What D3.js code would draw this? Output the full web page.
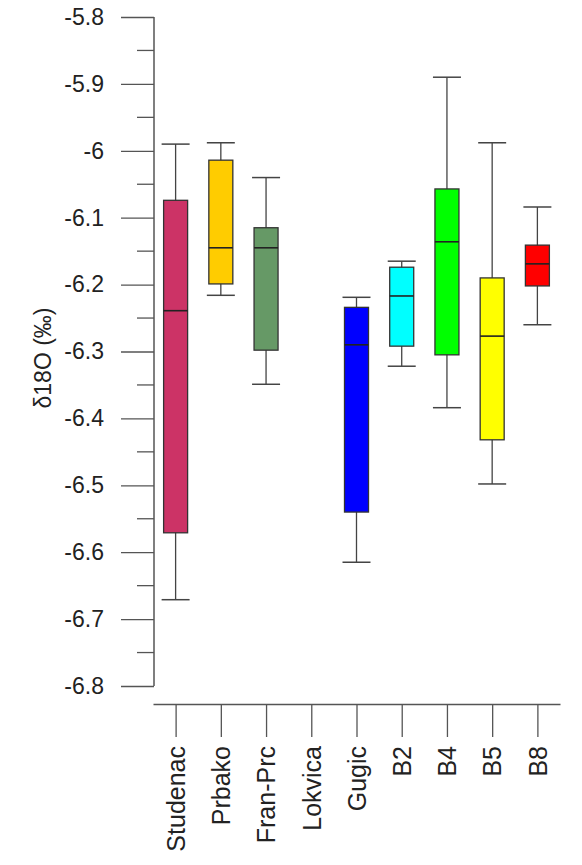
<!DOCTYPE html>
<html>
<head>
<meta charset="utf-8">
<script src="https://cdn.jsdelivr.net/npm/d3@7"></script>
<style>
  body { margin: 0; background: #fff; }
  svg { font-family: "Liberation Sans", Arial, sans-serif; }
</style>
</head>
<body>
<svg id="chart" width="582" height="865"></svg>
<script>
// data
const sites = ["Studenac", "Prbako", "Fran-Prc", "Lokvica", "Gugic", "B2", "B4", "B5", "B8"]
const whiskerHigh = [-5.990, -5.988, -6.040, null, -6.219, -6.165, -5.890, -5.988, -6.084]
const q3 = [-6.074, -6.014, -6.115, null, -6.234, -6.174, -6.057, -6.190, -6.141]
const median = [-6.239, -6.145, -6.145, null, -6.290, -6.217, -6.136, -6.277, -6.169]
const q1 = [-6.571, -6.199, -6.298, null, -6.540, -6.292, -6.305, -6.432, -6.202]
const whiskerLow = [-6.671, -6.216, -6.349, null, -6.615, -6.322, -6.384, -6.498, -6.260]
const fills = ["#cc3366", "#ffcc00", "#669966", "none", "#0000ff", "#00ffff", "#00ff00", "#ffff00", "#ff0000"]
const yTicks = [-6.8, -6.7, -6.6, -6.5, -6.4, -6.3, -6.2, -6.1, -6, -5.9, -5.8]
const yMinor = [-6.75, -6.65, -6.55, -6.45, -6.35, -6.25, -6.15, -6.05, -5.95, -5.85]

const svg = d3.select("#chart")
const axisColor = "#555"

const y = d3.scaleLinear().domain([-6.8, -5.8]).range([686, 17])
const x = d3.scalePoint().domain(sites).range([153, 560]).padding(0.5)

// y axis
const yAxis = svg.append("g")
    .attr("transform", "translate(154,0)")
    .call(d3.axisLeft(y).tickValues(yTicks).tickSize(33).tickPadding(17)
        .tickFormat(d => String(+d.toFixed(1))))
yAxis.select(".domain").attr("stroke", axisColor).attr("stroke-width", 1.5)
    .attr("d", "M0," + y(-6.8) + "V" + y(-5.8))
yAxis.selectAll(".tick line").attr("stroke", axisColor).attr("stroke-width", 1.3)
yAxis.selectAll(".tick text").attr("font-size", 23).attr("fill", "#222")
    .attr("font-family", "Liberation Sans, Arial, sans-serif")

svg.append("g").selectAll("line")
    .data(yMinor)
    .enter().append("line")
    .attr("x1", 137).attr("x2", 154)
    .attr("y1", d => y(d)).attr("y2", d => y(d))
    .attr("stroke", axisColor).attr("stroke-width", 1.3)

svg.append("text")
    .attr("transform", "translate(51,358) rotate(-90)")
    .attr("text-anchor", "middle")
    .attr("font-size", 23)
    .attr("fill", "#222")
    .text("δ18O (‰)")

// x axis
const xAxis = svg.append("g")
    .attr("transform", "translate(0,704)")
    .call(d3.axisBottom(x).tickSize(33).tickSizeOuter(0).tickPadding(0))
xAxis.select(".domain").attr("stroke", axisColor).attr("stroke-width", 1.3)
xAxis.selectAll(".tick line").attr("stroke", axisColor).attr("stroke-width", 1.3)
xAxis.selectAll(".tick text")
    .attr("transform", "translate(0,42) rotate(-90)")
    .attr("text-anchor", "end")
    .attr("dy", "0.35em")
    .attr("y", 0)
    .attr("x", 0)
    .attr("font-size", 25)
    .attr("fill", "#222")
    .attr("font-family", "Liberation Sans, Arial, sans-serif")

// boxes
const boxW = 24
const capW = 28
const idx = d3.range(sites.length).filter(i => q1[i] !== null)

const g = svg.append("g").selectAll("g")
    .data(idx)
    .enter().append("g")
    .attr("transform", i => "translate(" + x(sites[i]) + ",0)")

g.append("line") // whisker stem
    .attr("x1", 0).attr("x2", 0)
    .attr("y1", i => y(whiskerHigh[i])).attr("y2", i => y(whiskerLow[i]))
    .attr("stroke", "#444").attr("stroke-width", 1.3)

g.selectAll(".cap")
    .data(i => [whiskerHigh[i], whiskerLow[i]])
    .enter().append("line")
    .attr("class", "cap")
    .attr("x1", -capW / 2).attr("x2", capW / 2)
    .attr("y1", d => y(d)).attr("y2", d => y(d))
    .attr("stroke", "#444").attr("stroke-width", 1.5)

g.append("rect")
    .attr("x", -boxW / 2)
    .attr("width", boxW)
    .attr("y", i => y(q3[i]))
    .attr("height", i => y(q1[i]) - y(q3[i]))
    .attr("fill", i => fills[i])
    .attr("stroke", "#333").attr("stroke-width", 1.3)

g.append("line") // median
    .attr("x1", -boxW / 2).attr("x2", boxW / 2)
    .attr("y1", i => y(median[i])).attr("y2", i => y(median[i]))
    .attr("stroke", "#222").attr("stroke-width", 1.6)
</script>
</body>
</html>
